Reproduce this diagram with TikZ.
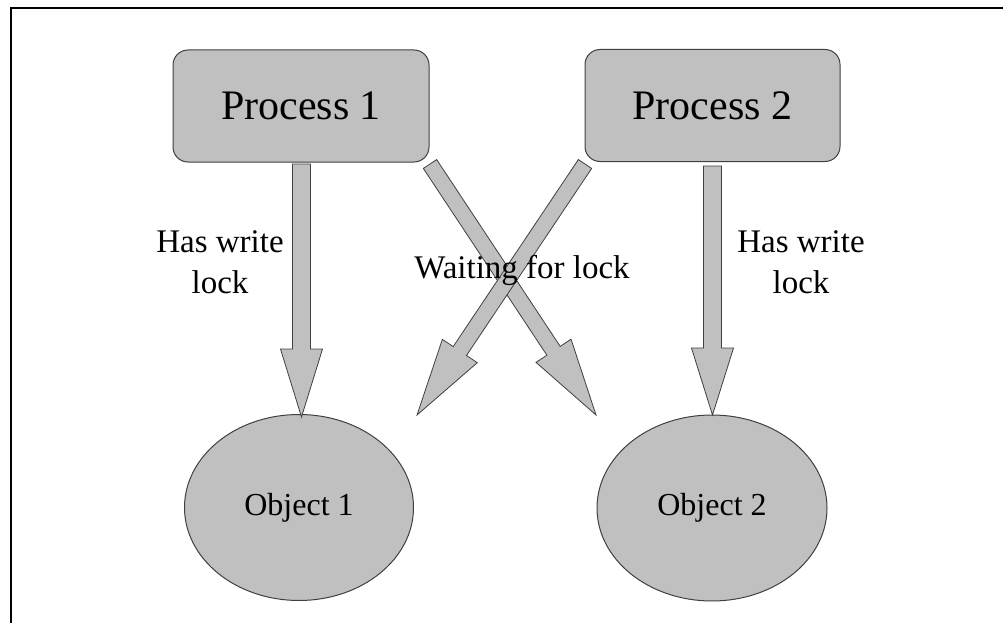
\documentclass[tikz,border=0pt]{standalone}
\usepackage{fontspec}
\setmainfont{Liberation Serif}
\usetikzlibrary{calc,shapes.geometric}

\definecolor{boxfill}{HTML}{C0C0C0}
\definecolor{edgegray}{HTML}{404040}

\tikzset{
  procbox/.style={draw=edgegray, fill=boxfill, line width=1pt, rounded corners=15pt,
    minimum width=256pt, minimum height=112pt, inner sep=0pt,
    font=\fontsize{42}{48}\selectfont},
  objnode/.style={ellipse, draw=edgegray, fill=boxfill, line width=1pt,
    minimum width=229pt, minimum height=186pt, inner sep=0pt,
    font=\fontsize{32}{38}\selectfont},
  lbl/.style={align=center, inner sep=0pt, font=\fontsize{33}{41}\selectfont},
  blockarrow/.style={draw=edgegray, fill=boxfill, line width=0.8pt, line join=miter},
  frameline/.style={draw=black, line width=2pt}
}

% block arrow: #1 tail, #2 tip, #3 head length, #4 half shaft width
\newcommand\fatarrow[4]{%
  \coordinate (fa-h) at ($(#2)!#3!(#1)$);
  \path[blockarrow] ($(#1)!#4!90:(#2)$) -- ($(fa-h)!#4!90:(#2)$)
    -- ($(fa-h)!21pt!90:(#2)$) -- (#2) -- ($(fa-h)!21pt!-90:(#2)$)
    -- ($(fa-h)!#4!-90:(#2)$) -- ($(#1)!#4!-90:(#2)$) -- cycle;
}

\begin{document}
\begin{tikzpicture}[x=1pt, y=-1pt]
\useasboundingbox (0,0) rectangle (1003,623);

% frame
\draw[frameline] (10.5,623) -- (10.5,8.5) -- (1003,8.5);

% processes and objects
\node[procbox] (p1) at (301,106) {Process 1};
\node[procbox, minimum width=255pt] (p2) at (712.5,105.5) {Process 2};
\node[objnode] (o1) at (299,507.5) {Object 1};
\node[objnode, minimum width=230pt] (o2) at (712,508) {Object 2};

% arrow end points
\coordinate (a1s) at (301.5,164);
\coordinate (a1e) at (301.5,417);
\coordinate (a2s) at (712.5,166);
\coordinate (a2e) at (712.5,415);
\coordinate (a3s) at (430,164);
\coordinate (a3e) at (596,415);
\coordinate (a4s) at (585,164);
\coordinate (a4e) at (417,415);

% lock arrows
\fatarrow{a1s}{a1e}{68pt}{9pt}
\fatarrow{a2s}{a2e}{67pt}{9pt}
\fatarrow{a3s}{a3e}{77pt}{8pt}
\fatarrow{a4s}{a4e}{77pt}{8pt}

% labels
\node[lbl] (l1) at (220,262) {Has write\\lock};
\node[lbl] (l2) at (801,262) {Has write\\lock};
\node[lbl, anchor=base] (l3) at (522,278) {Waiting for lock};
\end{tikzpicture}
\end{document}
